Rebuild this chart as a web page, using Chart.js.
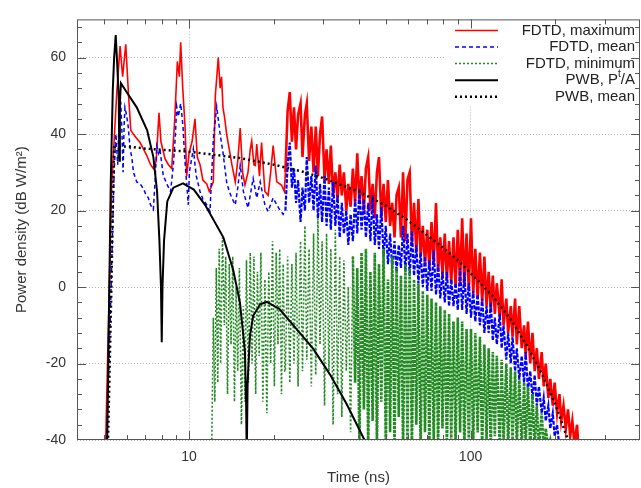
<!DOCTYPE html>
<html>
<head>
<meta charset="utf-8">
<script src="https://cdn.jsdelivr.net/npm/chart.js@4.4.0/dist/chart.umd.min.js"></script>
<style>
  html, body { margin: 0; padding: 0; background: #fff; }
</style>
</head>
<body>
<canvas id="powerChart" width="641" height="488"></canvas>
<script>
// early part, [time (ns), power density (dB W/m^2)]
const fdtdMax = [
  [5.06,-40],[5.31,26],[5.38,34],[5.54,51],[5.69,63],[5.81,55],[5.96,63.5],[6.1,50],[6.21,41],[6.34,40],[6.5,39],[6.7,37.8],
  [6.9,36],[7.08,34.4],[7.3,32],[7.47,31],[7.65,33],[7.82,45.6],[7.95,38],[8.22,33.5],[8.45,32],[8.68,31],[8.9,44],[9.09,59],
  [9.24,55],[9.34,64],[9.5,52],[9.68,42],[9.81,29],[10.0,35],[10.25,38],[10.5,44],[10.7,34],[10.94,32],[11.2,28],[11.56,27],
  [11.8,25],[12.2,27.5],[12.4,50],[12.55,55],[12.7,60],[12.9,52],[13.05,55],[13.2,47],[13.4,44],[13.6,40],[13.9,36],[14.2,32],
  [14.6,27.5],[14.9,33],[15.2,41.6],[15.5,30],[15.8,26.7],[16.2,30],[16.5,36],[16.7,38.2],[17.0,32],[17.2,31.8],[17.4,37.4],
  [17.8,29],[18.1,37.8],[18.6,25],[19.1,24],[19.5,30],[19.9,37],[20.5,27.5],[21.3,26.7],[21.8,25]
];

const fdtdMean = [
  [5.1,-40],[5.2,-20],[5.33,10],[5.42,30],[5.5,40],[5.58,32],[5.65,45],[5.72,48.5],[5.78,40],[5.83,30],[5.88,42],[5.92,47],
  [6.0,45],[6.08,42],[6.18,36],[6.26,34],[6.35,30],[6.52,27.5],[6.7,27],[6.88,25.8],[7.0,24.5],[7.17,23.3],[7.3,21.5],
  [7.47,20.3],[7.58,28],[7.68,36.9],[7.8,35],[7.88,36.1],[8.1,29.2],[8.37,26.7],[8.6,25],[8.8,32],[8.95,40],[9.04,47.2],
  [9.16,44.6],[9.34,48],[9.52,42],[9.65,34],[9.76,29.2],[9.94,21.5],[10.03,30.1],[10.36,36.1],[10.6,29.2],[10.94,25],
  [11.2,23],[11.56,21.5],[11.87,19.8],[12.2,38.6],[12.54,47.2],[12.88,40.3],[13.2,35.2],[13.6,27.5],[13.9,25],[14.2,23.3],
  [14.6,21.5],[14.9,26],[15.2,31.8],[15.6,25],[16.2,20.7],[16.9,28.4],[17.4,23.3],[17.9,27.5],[18.6,21.5],[19.1,19.8],
  [19.9,23.3],[20.8,20.7],[21.6,19]
];

const fdtdMin = [
  [12.04,-42],[12.2,-8],[12.35,-30],[12.5,5],[12.65,-25],[12.8,10],[12.95,-20],[13.15,13],[13.35,-10],[13.5,8],[13.7,-28],
  [13.9,6],[14.1,-15],[14.3,8],[14.5,-30],[14.7,0],[14.9,-22],[15.1,5],[15.35,-36],[15.6,-5],[15.8,-30],[16.0,7],[16.25,-25],
  [16.5,9],[16.75,-20],[17.0,8],[17.25,-28],[17.5,4],[17.75,-18],[18.0,9],[18.3,-30],[18.6,2],[18.9,-33],[19.2,4],[19.5,-20],
  [19.8,12],[20.1,-26],[20.4,9],[20.7,-15],[21.0,10],[21.3,-28],[21.6,6],[21.9,-22]
];

// late, densely oscillating part: shared FDTD time base (ns) and the three FDTD curves
const tailTime = [
  22.0,22.4,22.8,23.2,23.6,24.0,24.4,24.9,25.3,25.8,
  26.2,26.7,27.2,27.7,28.2,28.7,29.2,29.7,30.3,30.8,
  31.4,31.9,32.5,33.1,33.7,34.3,34.9,35.5,36.2,36.8,
  37.5,38.2,38.9,39.6,40.3,41.0,41.8,42.5,43.3,44.1,
  44.9,45.7,46.5,47.3,48.2,49.1,50.0,50.9,51.8,52.7,
  53.7,54.6,55.6,56.6,57.6,58.7,59.7,60.8,61.9,63.0,
  64.2,65.3,66.5,67.7,68.9,70.2,71.4,72.7,74.0,75.4,
  76.7,78.1,79.5,81.0,82.4,83.9,85.4,87.0,88.5,90.1,
  91.8,93.4,95.1,96.8,98.6,100.4,102.2,104,106,108,
  110,112,114,116,118,120,122,124,127,129,
  131,134,136,139,141,144,146,149,152,155,
  157,160,163,166,169,172,175,179,182,185,
  189,192,196,199,203,207,210,214,218,222,
  226,230,234,239,243,247
];
const maxTail = [
  30,46,51,38,47,36,45,48,34,45,
  48,33,42,30,42,29,40,44.6,28,36,
  27,37,24,30,23,32,24,30,20,27,
  21,31,22,35,22,29,20,31,34,20,
  27,18,30,34,18,27,17,28,16,22,
  13,24,26,13,30,12,28,30,11,22,
  9,23,8,16,6,15,5,17,6,22,
  4,13,3,14,2,12,1,13,0,15,
  1,18,0,14,-1,18,-2,10,-3,9,
  -4,8,-5,4,-6,3,-7,1,-8,2,
  -10,-3,-12,-5,-13,-3,-15,-5,-16,-10,
  -18,-9,-20,-12,-22,-16,-24,-17,-26,-20,
  -29,-24,-31,-25,-33,-28,-35,-31,-37,-32,
  -39,-35,-41,-36,-45,null
];
const meanTail = [
  20,32,37.8,26,31,22,28,17,26,20,
  34,22,29,20,31.8,18,27,17,29,16,
  26,15,27.5,16,24,13,22,14,20,11,
  19,12,23,14,25.8,15,23,13,22,12,
  24,11,19,10,21,8,16,6,14,5,
  12,4,11,5,16,4,14,3,14.7,3,
  11,1,9,0,8,-1,7,-1,9.6,-2,
  6,-3,4,-4,4,-5,2,-5,1,-6,
  5,-6,4,-7,1,-8,-1,-9,-2,-10,
  -3,-12,-5,-12,-4,-14,-8,-15,-7,-16,
  -10,-19,-12,-20,-13,-22,-16,-24,-18,-25,
  -17,-27,-22,-29,-23,-31,-26,-33,-29,-35,
  -31,-37,-33,-39,-36,-42,null,null,null,null,
  null,null,null,null,null,null
];
const minTail = [
  -22,8,-25,6,-20,9,-26,12,-22,16,
  -19,10,-26,14,-23,18,-15,12,-31,14,
  -22,10,-36,15,-28,8,-34,7,-22,0,
  -38,8,-25,5,-42,9,-32,10,-42,4,
  -35,9,-42,6,-30,10,-42,2,-38,8,
  -42,5,-34,3,-42,6,-40,5,-42,2,
  -36,1,-42,-1,-38,-2,-42,-3,-40,-4,
  -42,-5,-37,-6,-42,-7,-40,-9,-42,-8,
  -38,-9,-42,-11,-40,-11,-42,-12,-38,-13,
  -42,-15,-40,-16,-42,-17,-39,-18,-42,-19,
  -40,-20,-42,-21,-40,-22,-42,-24,-42,-25,
  -41,-26,-42,-28,-42,-31,-42,-33,-42,-37,
  -42,-40,-44,null,null,null,null,null,null,null,
  null,null,null,null,null,null
];

// PWB model curves
const pwbPt = [
  [5.12,-40],[5.27,26.7],[5.36,51.5],[5.42,60],[5.49,65.9],[5.56,58],[5.63,49],[5.65,33],[5.68,48],[5.73,53.3],[6.0,51],
  [6.52,47],[7.1,41],[7.47,34],[7.7,25],[7.85,12],[7.95,0],[8.0,-14.4],[8.05,0],[8.15,12],[8.37,22.4],[8.8,26],[9.52,27.1],
  [10.4,25.5],[11.4,21.5],[13.24,13],[14.36,4.4],[15.17,-4.1],[15.8,-16.9],[15.95,-30],[16.02,-45],[16.05,-45],[16.15,-25],
  [16.47,-12.6],[16.9,-7.5],[17.9,-4.5],[18.9,-3.9],[21.0,-5.8],[24.1,-11],[27.6,-16.1],[31.7,-22.9],[36.3,-30.6],[42,-40],[43,-42]
];

const pwbMean = [
  [5.15,-42],[5.3,0],[5.38,26.7],[5.42,36.5],[6,36.8],[7,36.2],[10,35.4],[15,33.8],[20,32],[25,30.3],[30,28.5],[40,25],
  [50,21.3],[60,17.4],[70,13.6],[80,10.2],[90,7.1],[100,3.7],[120,-2.4],[140,-8.8],[160,-15.8],[180,-23],[200,-30.6],
  [220,-39.2],[225,-42]
];

const xMajor = [10, 100];
const xMinor = [5, 6, 7, 8, 9, 20, 30, 40, 50, 60, 70, 80, 90, 200, 300];
const yMajor = [-40, -20, 0, 20, 40, 60];

const toXY = arr => arr.map(p => ({ x: p[0], y: p[1] }));
const tail = vals => tailTime.map((t, i) => [t, vals[i]]).filter(p => p[1] != null);
// the late part of the FDTD traces oscillates much faster than we sample, so draw it heavier
const inTail = c => c.p0.parsed.x >= 22;
const FONT = '"Liberation Sans", Arial, sans-serif';

// legend entries, drawn by hand so the text sits right-aligned like the original
const legendRows = [
  { parts: [['FDTD, maximum', false]], color: '#ff0000', dash: [], width: 1.5 },
  { parts: [['FDTD, mean', false]], color: '#0000ff', dash: [4, 3], width: 1.5 },
  { parts: [['FDTD, minimum', false]], color: '#228b22', dash: [2, 2], width: 1.5 },
  { parts: [['PWB, P', false], ['t', true], ['/A', false]], color: '#000', dash: [], width: 2 },
  { parts: [['PWB, mean', false]], color: '#000', dash: [2, 3], width: 2.5 }
];

const framePlugin = {
  id: 'frame',
  afterDatasetsDraw(chart) {
    const { ctx, chartArea: a, scales: { x, y } } = chart;
    ctx.save();

    // legend box
    ctx.fillStyle = '#fff';
    ctx.fillRect(445, a.top + 1, a.right - 446, 86);
    legendRows.forEach((row, i) => {
      const cy = a.top + 11 + i * 16.6;
      ctx.strokeStyle = row.color;
      ctx.lineWidth = row.width;
      ctx.setLineDash(row.dash);
      ctx.beginPath();
      ctx.moveTo(455, cy);
      ctx.lineTo(498, cy);
      ctx.stroke();
      ctx.setLineDash([]);
      let total = 0;
      row.parts.forEach(([txt, sup]) => {
        ctx.font = (sup ? '10px ' : '15px ') + FONT;
        total += ctx.measureText(txt).width;
      });
      let tx = 635 - total;
      ctx.fillStyle = '#222';
      ctx.textBaseline = 'middle';
      ctx.textAlign = 'left';
      row.parts.forEach(([txt, sup]) => {
        ctx.font = (sup ? '10px ' : '15px ') + FONT;
        ctx.fillText(txt, tx, sup ? cy - 6 : cy);
        tx += ctx.measureText(txt).width;
      });
    });

    // frame and inward ticks on all four sides
    ctx.strokeStyle = '#555';
    ctx.lineWidth = 1;
    ctx.strokeRect(a.left + 0.5, a.top + 0.5, a.right - a.left - 1, a.bottom - a.top - 1);
    const tick = (x1, y1, x2, y2) => { ctx.beginPath(); ctx.moveTo(x1, y1); ctx.lineTo(x2, y2); ctx.stroke(); };
    xMajor.concat(xMinor).forEach(v => {
      const len = xMajor.includes(v) ? 9 : 5;
      const px = Math.round(x.getPixelForValue(v)) + 0.5;
      tick(px, a.bottom, px, a.bottom - len);
      tick(px, a.top, px, a.top + len);
    });
    for (let v = -36; v < 70; v += 4) {
      const len = v % 20 === 0 ? 9 : 5;
      const py = Math.round(y.getPixelForValue(v)) + 0.5;
      tick(a.left, py, a.left + len, py);
      tick(a.right, py, a.right - len, py);
    }
    ctx.restore();
  }
};

new Chart(document.getElementById('powerChart'), {
  type: 'line',
  data: {
    datasets: [
      { label: 'FDTD, maximum', data: toXY(fdtdMax.concat(tail(maxTail))), borderColor: '#ff0000', borderWidth: 1.6, order: 5,
        segment: { borderWidth: c => inTail(c) ? 2.6 : 1.6 } },
      { label: 'FDTD, mean', data: toXY(fdtdMean.concat(tail(meanTail))), borderColor: '#0000ff', borderWidth: 1.5, borderDash: [4, 3], order: 4,
        segment: { borderWidth: c => inTail(c) ? 2.2 : 1.5, borderDash: c => inTail(c) ? [4, 1.5] : [4, 3] } },
      { label: 'FDTD, minimum', data: toXY(fdtdMin.concat(tail(minTail))), borderColor: '#228b22', borderWidth: 1.5, borderDash: [2, 2], order: 3,
        segment: { borderWidth: c => c.p0.parsed.x >= 38 ? 2.6 : 1.6, borderDash: c => c.p0.parsed.x >= 38 ? [3, 1] : [2, 2] } },
      { label: 'PWB, Pt/A', data: toXY(pwbPt), borderColor: '#000000', borderWidth: 2, order: 2 },
      { label: 'PWB, mean', data: toXY(pwbMean), borderColor: '#000000', borderWidth: 2.5, borderDash: [2, 3], order: 1 }
    ]
  },
  options: {
    responsive: false,
    animation: false,
    layout: { padding: { top: 11, right: 1, left: 0, bottom: 0 } },
    elements: { point: { radius: 0 }, line: { tension: 0 } },
    scales: {
      x: {
        type: 'logarithmic',
        min: 4,
        max: 400,
        afterBuildTicks: s => { s.ticks = xMajor.map(v => ({ value: v })); },
        afterFit: s => { s.height = 48; },
        ticks: { callback: v => String(v), color: '#333', font: { family: FONT, size: 14 }, padding: 9, maxRotation: 0 },
        grid: { color: '#b4b4b4', lineWidth: 1, drawTicks: false },
        border: { display: false, dash: [1, 2] },
        title: { display: true, text: 'Time (ns)', color: '#333', font: { family: FONT, size: 15 }, padding: { top: 0, bottom: 1 } }
      },
      y: {
        min: -40,
        max: 70,
        afterBuildTicks: s => { s.ticks = yMajor.map(v => ({ value: v })); },
        afterFit: s => { s.width = 77; },
        ticks: { color: '#333', font: { family: FONT, size: 14 }, padding: 11 },
        grid: { color: '#b4b4b4', lineWidth: 1, drawTicks: false },
        border: { display: false, dash: [1, 2] },
        title: { display: true, text: 'Power density (dB W/m²)', color: '#333', font: { family: FONT, size: 15 }, padding: { top: 13, bottom: 0 } }
      }
    },
    plugins: {
      legend: { display: false },
      tooltip: { enabled: false }
    }
  },
  plugins: [framePlugin]
});
</script>
</body>
</html>
